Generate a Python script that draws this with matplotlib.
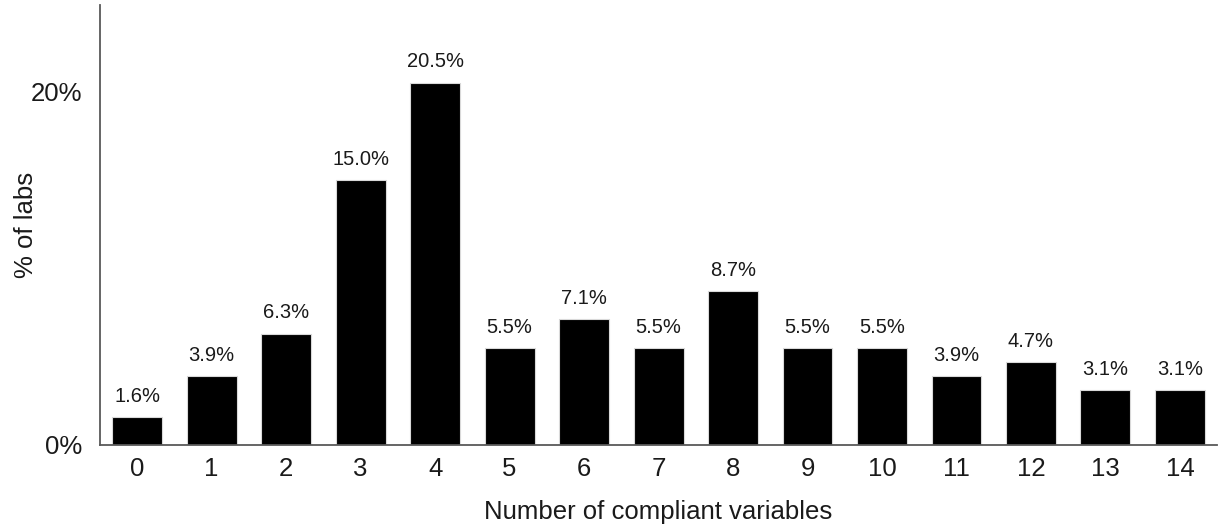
import matplotlib.pyplot as plt

plt.rcParams['font.family'] = ['Liberation Sans', 'DejaVu Sans']

# number of compliant variables and share of labs (%)
categories = [str(i) for i in range(15)]
pct_labs = [1.6, 3.9, 6.3, 15.0, 20.5, 5.5, 7.1, 5.5, 8.7, 5.5, 5.5, 3.9, 4.7, 3.1, 3.1]


def main():
    fig = plt.figure(figsize=(12.25, 5.31), dpi=100)
    ax = fig.add_axes([0.0816, 0.162, 0.912, 0.829])

    x = range(len(categories))
    bars = ax.bar(x, pct_labs, width=0.67, color='black', edgecolor='#d9d9d9', linewidth=0.8)

    # value labels above each bar
    for bar, v in zip(bars, pct_labs):
        ax.annotate(f'{v:.1f}%', (bar.get_x() + bar.get_width() / 2, v),
                    xytext=(0, 8), textcoords='offset points',
                    ha='center', va='bottom', fontsize=14.5, color='#1a1a1a')

    ax.set_xlim(-0.5, 14.5)
    ax.set_ylim(0, 24.9)
    ax.set_xticks(list(x))
    ax.set_xticklabels(categories)
    ax.set_yticks([0, 20])
    ax.set_yticklabels(['0%', '20%'])
    ax.tick_params(axis='both', length=0, labelsize=18.5, colors='#1a1a1a')
    ax.tick_params(axis='x', pad=9)
    ax.tick_params(axis='y', pad=13)

    for side in ['top', 'right']:
        ax.spines[side].set_visible(False)
    for side in ['left', 'bottom']:
        ax.spines[side].set_color('#595959')
        ax.spines[side].set_linewidth(1.3)

    ax.set_xlabel('Number of compliant variables', fontsize=18.5, color='#1a1a1a', va='center')
    ax.set_ylabel('% of labs', fontsize=18.5, color='#1a1a1a', va='center')
    ax.xaxis.set_label_coords(0.5, -0.152)
    ax.yaxis.set_label_coords(-0.066, 0.5)

    fig.savefig('out.png', dpi=100)


if __name__ == '__main__':
    main()
